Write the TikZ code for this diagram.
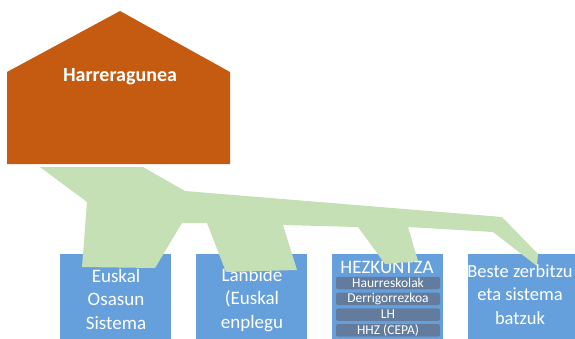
\documentclass[tikz,border=0pt]{standalone}
\usepackage{fontspec}
\setmainfont{Carlito}
\usetikzlibrary{positioning}
\definecolor{housecol}{HTML}{C55A11}
\definecolor{flowcol}{HTML}{C5E0B4}
\definecolor{boxcol}{HTML}{66A0DC}
\definecolor{subcol}{HTML}{637C9E}

\tikzset{
	sysbox/.style = {fill=boxcol, minimum width=111pt, minimum height=100pt, anchor=north west, inner sep=0pt},
	systext/.style = {text=white, font=\fontsize{19}{23.5}\selectfont, align=center, anchor=north, inner sep=0pt},
	subbox/.style = {fill=subcol, rounded corners=2pt, minimum width=104pt, minimum height=12.5pt, inner sep=0pt, text=white, font=\fontsize{13.5}{13.5}\selectfont}
}

\begin{document}
\begin{tikzpicture}[x=1pt,y=-1pt]
			\clip (0,0) rectangle (575,338);
			% house
			\fill[housecol] (7,164) -- (7,72) -- (120,11) -- (230,72) -- (230,164) -- cycle;
			\node[text=white, font=\bfseries\fontsize{20}{24}\selectfont] (home) at (120,77) {Harreragunea};
			% systems
			\node[sysbox] (osasun) at (60,254) {};
			\node[sysbox] (lanbide) at (196,254) {};
			\node[sysbox] (hezk) at (332,254) {};
			\node[sysbox] (beste) at (468,254) {};
			\node[systext] (osasuntxt) at (116,269) {Euskal\\Osasun\\Sistema};
			\node[systext] (lanbidetxt) at (252,268) {Lanbide\\(Euskal\\enplegu};
			\node[systext, font=\fontsize{18.5}{23.5}\selectfont] (bestetxt) at (520,264) {Beste zerbitzu\\eta sistema\\batzuk};
			\node[text=white, font=\fontsize{19}{23}\selectfont, inner sep=0pt] (hezktxt) at (387,267) {HEZKUNTZA};
			\foreach \t [count=\i] in {Haurreskolak, Derrigorrezkoa, LH, HHZ (CEPA)} {\node[subbox] (sub\i) at (388,283+15.8*\i-15.8) {\t};}
			% flow
			\fill[flowcol] (40,167) -- (143,167) -- (185,191) -- (502,217) -- (538,254) -- (537,266) -- (493,232) -- (408,227) -- (418,261) -- (385,264) -- (358,227) -- (283,225) -- (297,270) -- (226,272) -- (207,223) -- (182,223) -- (155,268) -- (82,267) -- (87,202) -- cycle;
\end{tikzpicture}
\end{document}
